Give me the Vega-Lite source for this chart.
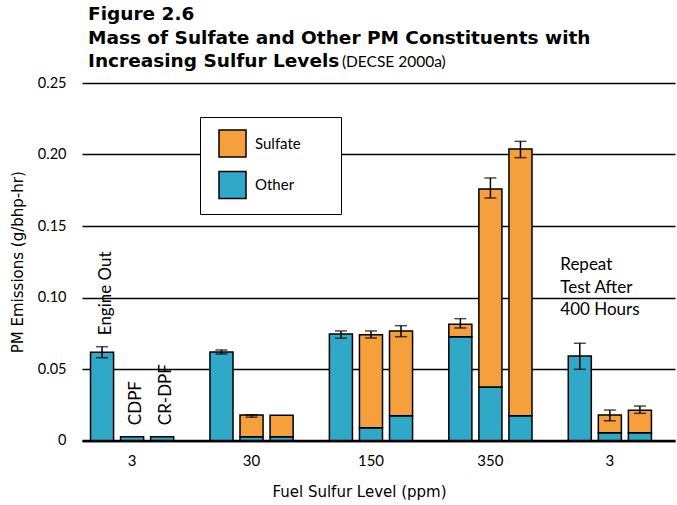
{
  "$schema": "https://vega.github.io/schema/vega-lite/v6.json",
  "width": 593,
  "height": 357.5,
  "autosize": {"type": "none"},
  "padding": {"left": 82, "top": 83, "right": 2, "bottom": 64.5},
  "background": "white",
  "config": {"font": "Lato", "view": {"stroke": null}},
  "title": {
    "text": ["Figure 2.6", "Mass of Sulfate and Other PM Constituents with", "Increasing Sulfur Levels"],
    "anchor": "start",
    "frame": "group",
    "font": "DejaVu Sans",
    "fontSize": 18.5,
    "fontWeight": "bold",
    "lineHeight": 23.5,
    "dx": 6,
    "offset": -16,
    "color": "black"
  },
  "datasets": {
    "parts": [
      {"g": "g1", "cfg": "Engine Out", "comp": "Other", "v": 0.0617},
      {"g": "g1", "cfg": "CDPF", "comp": "Other", "v": 0.0027},
      {"g": "g1", "cfg": "CR-DPF", "comp": "Other", "v": 0.0027},
      {"g": "g2", "cfg": "Engine Out", "comp": "Other", "v": 0.0619},
      {"g": "g2", "cfg": "CDPF", "comp": "Other", "v": 0.0027},
      {"g": "g2", "cfg": "CDPF", "comp": "Sulfate", "v": 0.0151},
      {"g": "g2", "cfg": "CR-DPF", "comp": "Other", "v": 0.0027},
      {"g": "g2", "cfg": "CR-DPF", "comp": "Sulfate", "v": 0.0149},
      {"g": "g3", "cfg": "Engine Out", "comp": "Other", "v": 0.0745},
      {"g": "g3", "cfg": "CDPF", "comp": "Other", "v": 0.0090},
      {"g": "g3", "cfg": "CDPF", "comp": "Sulfate", "v": 0.0650},
      {"g": "g3", "cfg": "CR-DPF", "comp": "Other", "v": 0.0173},
      {"g": "g3", "cfg": "CR-DPF", "comp": "Sulfate", "v": 0.0593},
      {"g": "g4", "cfg": "Engine Out", "comp": "Other", "v": 0.0726},
      {"g": "g4", "cfg": "Engine Out", "comp": "Sulfate", "v": 0.0087},
      {"g": "g4", "cfg": "CDPF", "comp": "Other", "v": 0.0374},
      {"g": "g4", "cfg": "CDPF", "comp": "Sulfate", "v": 0.1385},
      {"g": "g4", "cfg": "CR-DPF", "comp": "Other", "v": 0.0173},
      {"g": "g4", "cfg": "CR-DPF", "comp": "Sulfate", "v": 0.1865},
      {"g": "g5", "cfg": "Engine Out", "comp": "Other", "v": 0.0591},
      {"g": "g5", "cfg": "CDPF", "comp": "Other", "v": 0.0055},
      {"g": "g5", "cfg": "CDPF", "comp": "Sulfate", "v": 0.0123},
      {"g": "g5", "cfg": "CR-DPF", "comp": "Other", "v": 0.0055},
      {"g": "g5", "cfg": "CR-DPF", "comp": "Sulfate", "v": 0.0156}
    ],
    "errs": [
      {"g": "g1", "cfg": "Engine Out", "lo": 0.0579, "hi": 0.0656},
      {"g": "g2", "cfg": "Engine Out", "lo": 0.0605, "hi": 0.0633},
      {"g": "g2", "cfg": "CDPF", "lo": 0.0163, "hi": 0.0180},
      {"g": "g3", "cfg": "Engine Out", "lo": 0.0715, "hi": 0.0766},
      {"g": "g3", "cfg": "CDPF", "lo": 0.0717, "hi": 0.0766},
      {"g": "g3", "cfg": "CR-DPF", "lo": 0.0726, "hi": 0.0803},
      {"g": "g4", "cfg": "Engine Out", "lo": 0.0787, "hi": 0.0852},
      {"g": "g4", "cfg": "CDPF", "lo": 0.1696, "hi": 0.1836},
      {"g": "g4", "cfg": "CR-DPF", "lo": 0.1978, "hi": 0.2092},
      {"g": "g5", "cfg": "Engine Out", "lo": 0.0498, "hi": 0.0680},
      {"g": "g5", "cfg": "CDPF", "lo": 0.0138, "hi": 0.0213},
      {"g": "g5", "cfg": "CR-DPF", "lo": 0.0190, "hi": 0.0241}
    ],
    "notes": [
      {"g": "g1", "cfg": "Engine Out", "at": 0.0656, "label": "Engine Out"},
      {"g": "g1", "cfg": "CDPF", "at": 0.0027, "label": "CDPF"},
      {"g": "g1", "cfg": "CR-DPF", "at": 0.0027, "label": "CR-DPF"}
    ],
    "repeat": [
      {"g": "g5", "cfg": "Engine Out", "at": 0.128, "label": "Repeat\nTest After\n400 Hours"}
    ],
    "source": [
      {"label": "(DECSE 2000a)"}
    ]
  },
  "layer": [
    {
      "data": {"name": "parts"},
      "mark": {"type": "bar", "stroke": "black", "strokeWidth": 1.5},
      "encoding": {
        "x": {
          "field": "g", "type": "nominal",
          "scale": {"domain": ["g1", "g2", "g3", "g4", "g5"], "paddingInner": 0.245, "paddingOuter": 0.105, "align": 0.2},
          "axis": {
            "labelExpr": "datum.value == 'g1' ? '3' : datum.value == 'g2' ? '30' : datum.value == 'g3' ? '150' : datum.value == 'g4' ? '350' : '3'",
            "title": "Fuel Sulfur Level (ppm)",
            "domain": true, "domainColor": "black", "domainWidth": 2.5,
            "ticks": false, "grid": false, "labelAngle": 0,
            "labelFontSize": 15, "labelColor": "black", "labelPadding": 13,
            "titleFont": "DejaVu Sans", "titleFontSize": 15, "titleFontWeight": "normal", "titleColor": "black",
            "titlePadding": 16, "titleX": 277, "titleAlign": "center"
          }
        },
        "xOffset": {
          "field": "cfg", "type": "nominal",
          "scale": {"domain": ["Engine Out", "CDPF", "CR-DPF"], "paddingInner": 0.233, "paddingOuter": 0.1165}
        },
        "y": {
          "field": "v", "type": "quantitative", "stack": "zero",
          "scale": {"domain": [0, 0.25], "nice": false},
          "axis": {
            "title": "PM Emissions (g/bhp-hr)",
            "values": [0, 0.05, 0.1, 0.15, 0.2, 0.25],
            "labelExpr": "datum.value == 0 ? '0' : format(datum.value, '.2f')",
            "domain": false, "ticks": false,
            "grid": true, "gridColor": "black", "gridWidth": 1.5, "gridOpacity": 1,
            "labelFontSize": 14.5, "labelColor": "black", "labelPadding": 16,
            "titleFont": "DejaVu Sans", "titleFontSize": 15, "titleFontWeight": "normal", "titleColor": "black", "titlePadding": 12
          }
        },
        "color": {
          "field": "comp", "type": "nominal",
          "scale": {"domain": ["Sulfate", "Other"], "range": ["#F59F3D", "#30A9C8"]},
          "legend": {
            "orient": "none", "legendX": 118, "legendY": 34,
            "title": " ", "titleOrient": "right", "titlePadding": 28,
            "padding": 12, "symbolOffset": 6,
            "symbolType": "square", "symbolSize": 729,
            "symbolStrokeColor": "black", "symbolStrokeWidth": 1.5,
            "labelFontSize": 15, "labelColor": "black", "labelOffset": 8,
            "rowPadding": 8.5,
            "fillColor": "white", "strokeColor": "black"
          }
        },
        "order": {"field": "comp", "sort": "ascending"}
      }
    },
    {
      "data": {"name": "errs"},
      "mark": {"type": "rule", "color": "black", "strokeWidth": 1.5},
      "encoding": {
        "x": {"field": "g", "type": "nominal", "scale": {"domain": ["g1", "g2", "g3", "g4", "g5"], "paddingInner": 0.245, "paddingOuter": 0.105, "align": 0.2}},
        "xOffset": {"field": "cfg", "type": "nominal", "scale": {"domain": ["Engine Out", "CDPF", "CR-DPF"], "paddingInner": 0.233, "paddingOuter": 0.1165}},
        "y": {"field": "lo", "type": "quantitative", "scale": {"domain": [0, 0.25], "nice": false}},
        "y2": {"field": "hi"}
      }
    },
    {
      "data": {"name": "errs"},
      "mark": {"type": "tick", "color": "black", "size": 12, "thickness": 1.5, "orient": "horizontal"},
      "encoding": {
        "x": {"field": "g", "type": "nominal", "scale": {"domain": ["g1", "g2", "g3", "g4", "g5"], "paddingInner": 0.245, "paddingOuter": 0.105, "align": 0.2}},
        "xOffset": {"field": "cfg", "type": "nominal", "scale": {"domain": ["Engine Out", "CDPF", "CR-DPF"], "paddingInner": 0.233, "paddingOuter": 0.1165}},
        "y": {"field": "lo", "type": "quantitative", "scale": {"domain": [0, 0.25], "nice": false}}
      }
    },
    {
      "data": {"name": "errs"},
      "mark": {"type": "tick", "color": "black", "size": 12, "thickness": 1.5, "orient": "horizontal"},
      "encoding": {
        "x": {"field": "g", "type": "nominal", "scale": {"domain": ["g1", "g2", "g3", "g4", "g5"], "paddingInner": 0.245, "paddingOuter": 0.105, "align": 0.2}},
        "xOffset": {"field": "cfg", "type": "nominal", "scale": {"domain": ["Engine Out", "CDPF", "CR-DPF"], "paddingInner": 0.233, "paddingOuter": 0.1165}},
        "y": {"field": "hi", "type": "quantitative", "scale": {"domain": [0, 0.25], "nice": false}}
      }
    },
    {
      "data": {"name": "notes"},
      "mark": {"type": "text", "angle": 270, "align": "left", "baseline": "middle", "dx": 11.5, "dy": 4, "fontSize": 17, "color": "black"},
      "encoding": {
        "x": {"field": "g", "type": "nominal", "scale": {"domain": ["g1", "g2", "g3", "g4", "g5"], "paddingInner": 0.245, "paddingOuter": 0.105, "align": 0.2}},
        "xOffset": {"field": "cfg", "type": "nominal", "scale": {"domain": ["Engine Out", "CDPF", "CR-DPF"], "paddingInner": 0.233, "paddingOuter": 0.1165}},
        "y": {"field": "at", "type": "quantitative", "scale": {"domain": [0, 0.25], "nice": false}},
        "text": {"field": "label"}
      }
    },
    {
      "data": {"name": "repeat"},
      "mark": {"type": "text", "align": "left", "baseline": "top", "lineBreak": "\n", "lineHeight": 22.5, "dx": -19.5, "fontSize": 17, "color": "black"},
      "encoding": {
        "x": {"field": "g", "type": "nominal", "scale": {"domain": ["g1", "g2", "g3", "g4", "g5"], "paddingInner": 0.245, "paddingOuter": 0.105, "align": 0.2}},
        "xOffset": {"field": "cfg", "type": "nominal", "scale": {"domain": ["Engine Out", "CDPF", "CR-DPF"], "paddingInner": 0.233, "paddingOuter": 0.1165}},
        "y": {"field": "at", "type": "quantitative", "scale": {"domain": [0, 0.25], "nice": false}},
        "text": {"field": "label"}
      }
    },
    {
      "data": {"name": "source"},
      "mark": {"type": "text", "align": "left", "baseline": "alphabetic", "dx": 16, "fontSize": 15.5, "color": "black"},
      "encoding": {
        "x": {"datum": "g3", "bandPosition": 0, "scale": {"domain": ["g1", "g2", "g3", "g4", "g5"], "paddingInner": 0.245, "paddingOuter": 0.105, "align": 0.2}},
        "y": {"datum": 0.2612, "scale": {"domain": [0, 0.25], "nice": false}},
        "text": {"field": "label"}
      }
    }
  ]
}
